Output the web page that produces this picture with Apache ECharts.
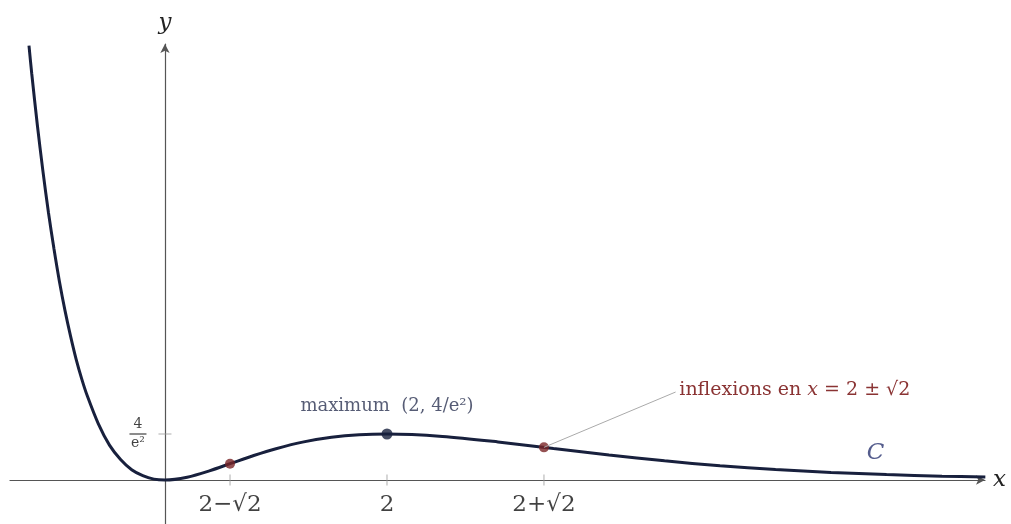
<!DOCTYPE html>
<html>
<head>
<meta charset="utf-8">
<script src="https://cdn.jsdelivr.net/npm/echarts@6/dist/echarts.min.js"></script>
<style>
  html, body { margin: 0; padding: 0; background: #fff; }
  #chart { width: 1011px; height: 524px; }
</style>
</head>
<body>
<div id="chart"></div>
<script>
// courbe C : y = x^2 e^-x
var curveX = [-1.225, -1.2, -1.15, -1.1, -1.05, -1.0, -0.95, -0.9, -0.85, -0.8, -0.75, -0.7, -0.6, -0.5, -0.4, -0.3, -0.2, -0.1, 0,
              0.2, 0.4, 0.6, 0.8, 1.0, 1.25, 1.5, 1.75, 2, 2.5, 3, 3.5, 4, 4.5, 5, 5.5, 6, 6.5, 7, 7.39];
var curveY = [5.11, 4.78, 4.18, 3.64, 3.15, 2.72, 2.33, 1.99, 1.69, 1.42, 1.19, 0.99, 0.66, 0.41, 0.24, 0.12, 0.05, 0.01, 0,
              0.033, 0.107, 0.198, 0.288, 0.368, 0.448, 0.502, 0.532, 0.541, 0.513, 0.448, 0.370, 0.293, 0.225, 0.168, 0.124, 0.089, 0.064, 0.045, 0.034];

var maxPoint = [2, 0.541];
var inflexionX = [0.586, 3.414];
var inflexionY = [0.191, 0.384];

var xTickValues = [0.586, 2, 3.414];
var xTickLabels = ['2\u2212\u221a2', '2', '2+\u221a2'];
var yTickValue = 0.541;

var calloutEnd = [4.6, 1.035];   // bout du trait de rappel
var curveNamePos = [6.4, 0.318]; // position du nom C

var serif = '"DejaVu Serif", "Liberation Serif", serif';
var navy = '#18203d';
var red = '#7b2628';
var axisGray = '#555';

var chart = echarts.init(document.getElementById('chart'));

var option = {
  animation: false,
  grid: { left: 10, right: 26, top: 44, bottom: 0, containLabel: false },
  xAxis: {
    type: 'value',
    min: -1.396,
    max: 7.387,
    splitLine: { show: false },
    axisTick: { show: false },
    axisLabel: { show: false },
    axisLine: {
      onZero: true,
      symbol: ['none', 'arrow'],
      symbolSize: [7, 9],
      lineStyle: { color: axisGray, width: 1.2 }
    },
    name: 'x',
    nameLocation: 'end',
    nameGap: 8,
    nameTextStyle: { fontFamily: serif, fontStyle: 'italic', fontSize: 23, color: '#222', verticalAlign: 'middle' }
  },
  yAxis: {
    type: 'value',
    min: -0.518,
    max: 5.13,
    splitLine: { show: false },
    axisTick: { show: false },
    axisLabel: { show: false },
    axisLine: {
      onZero: true,
      symbol: ['none', 'arrow'],
      symbolSize: [7, 9],
      lineStyle: { color: axisGray, width: 1.2 }
    },
    name: 'y',
    nameLocation: 'end',
    nameGap: 9,
    nameTextStyle: { fontFamily: serif, fontStyle: 'italic', fontSize: 23, color: '#222', align: 'center' }
  },
  series: [
    {
      // graduations de l'axe des x
      type: 'scatter',
      silent: true,
      symbol: 'rect',
      symbolSize: [1, 11],
      itemStyle: { color: '#999' },
      data: xTickValues.map(function (v, i) { return [v, 0, xTickLabels[i]]; }),
      label: {
        show: true,
        position: 'bottom',
        distance: 8,
        formatter: function (p) { return p.data[2]; },
        fontFamily: serif,
        fontSize: 23,
        color: '#111'
      },
      z: 1
    },
    {
      // graduation de l'axe des y
      type: 'scatter',
      silent: true,
      symbol: 'rect',
      symbolSize: [13, 1],
      itemStyle: { color: '#999' },
      data: [[0, yTickValue]],
      label: {
        show: true,
        position: 'left',
        distance: 12,
        formatter: '{n|4}\n{b|  }\n{d|e\u00b2}',
        rich: {
          n: { fontFamily: serif, fontSize: 14, color: '#111', align: 'center', lineHeight: 15 },
          b: { width: 17, height: 1.3, lineHeight: 4, backgroundColor: '#222', fontSize: 2, align: 'center' },
          d: { fontFamily: serif, fontSize: 14, color: '#111', align: 'center', lineHeight: 15 }
        }
      },
      z: 1
    },
    {
      name: 'C',
      type: 'line',
      data: curveX.map(function (x, i) { return [x, curveY[i]]; }),
      smooth: 0.3,
      showSymbol: false,
      clip: true,
      lineStyle: { color: navy, width: 3 },
      z: 3
    },
    {
      // maximum
      type: 'scatter',
      data: [maxPoint],
      symbolSize: 11,
      itemStyle: { color: navy },
      label: {
        show: true,
        position: 'top',
        distance: 13,
        formatter: 'maximum  (2, 4/e\u00b2)',
        fontFamily: serif,
        fontSize: 18,
        color: '#2c3352'
      },
      z: 4
    },
    {
      // points d'inflexion
      type: 'scatter',
      data: inflexionX.map(function (x, i) { return [x, inflexionY[i]]; }),
      symbolSize: 10,
      itemStyle: { color: red },
      markLine: {
        silent: true,
        symbol: 'none',
        lineStyle: { color: '#aaa', width: 1, type: 'solid' },
        label: {
          show: true,
          position: 'end',
          distance: 4,
          formatter: '{t|inflexions en }{i|x}{t| = 2 \u00b1 \u221a2}',
          rich: {
            t: { fontFamily: serif, fontSize: 19, color: '#8a3333' },
            i: { fontFamily: serif, fontSize: 19, fontStyle: 'italic', color: '#8a3333' }
          }
        },
        data: [[{ coord: [inflexionX[1], inflexionY[1]] }, { coord: calloutEnd }]]
      },
      z: 4
    },
    {
      // nom de la courbe
      type: 'scatter',
      silent: true,
      data: [curveNamePos],
      symbolSize: 0,
      label: {
        show: true,
        position: 'inside',
        formatter: 'C',
        fontFamily: serif,
        fontStyle: 'italic',
        fontSize: 23,
        color: '#2b3470'
      }
    }
  ]
};

chart.setOption(option);
</script>
</body>
</html>
